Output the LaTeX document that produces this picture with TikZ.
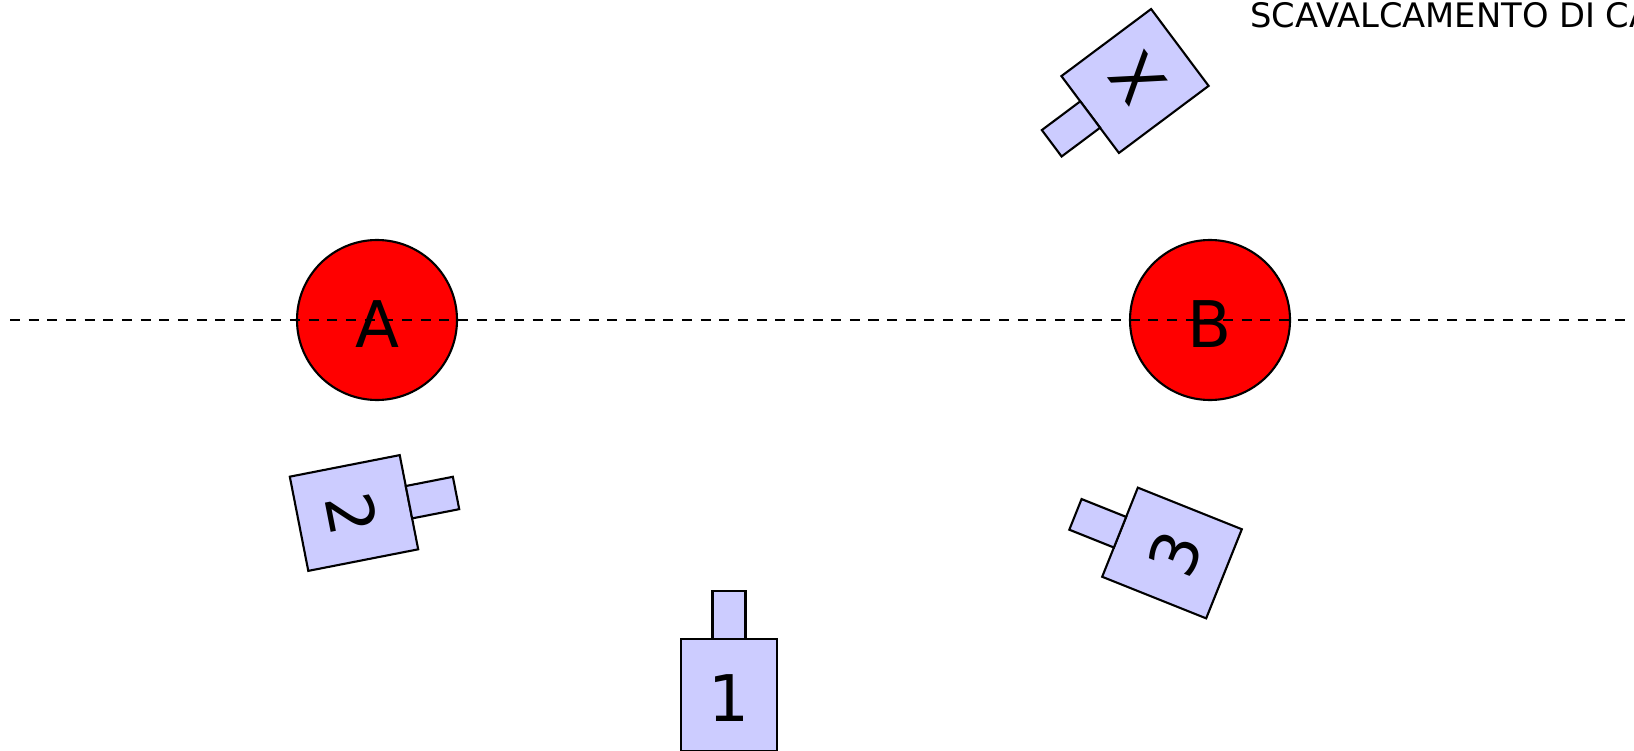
\documentclass[tikz,border=0pt]{standalone}
\usepackage{fontspec}
\setmainfont{DejaVu Sans}
\definecolor{camblue}{RGB}{204,204,255}

\begin{document}
\begin{tikzpicture}[
    actor/.style={circle, draw, fill=red, line width=0.6pt, minimum size=1.6cm, inner sep=0pt, text height=0.54cm, text depth=0pt, font=\fontsize{18.3}{20}\selectfont},
    camera/.style={rectangle, draw, fill=camblue, line width=0.6pt, minimum width=0.96cm, minimum height=1.12cm, inner sep=0pt, outer sep=0pt, text height=0.53cm, text depth=0pt, font=\fontsize{18.3}{20}\selectfont},
    lens/.style={rectangle, draw, fill=camblue, line width=0.6pt, minimum width=0.33cm, minimum height=0.48cm, inner sep=0pt, outer sep=0pt, anchor=south}
  ]
                    \useasboundingbox (0,0) rectangle (16.34,7.5);
                    \node[actor] (A) at (3.77,4.30) {A};
                    \node[actor] (B) at (12.10,4.30) {B};
                    \coordinate (left) at (0.10,4.30);
                    \coordinate (right) at (16.27,4.30);
                    \draw[line width=0.6pt, dash pattern=on 2.85pt off 2.46pt] (left) -- (right);
                    \node[camera] (cam1) at (7.29,0.55) {1};
                    \node[lens] (lens1) at (cam1.north) {};
                    \node[camera, rotate=-78.9] (cam2) at (3.54,2.37) {2};
                    \node[lens, rotate=-78.9] (lens2) at (cam2.north) {};
                    \node[camera, rotate=68.2] (cam3) at (11.72,1.97) {3};
                    \node[lens, rotate=68.2] (lens3) at (cam3.north) {};
                    \node[camera, rotate=126.8] (camX) at (11.35,6.69) {X};
                    \node[lens, rotate=126.8] (lensX) at (camX.north) {};
                    \node[anchor=base west, font=\fontsize{9.6}{11}\selectfont] (title) at (12.38,7.227) {SCAVALCAMENTO DI CA};
                \end{tikzpicture}
\end{document}
